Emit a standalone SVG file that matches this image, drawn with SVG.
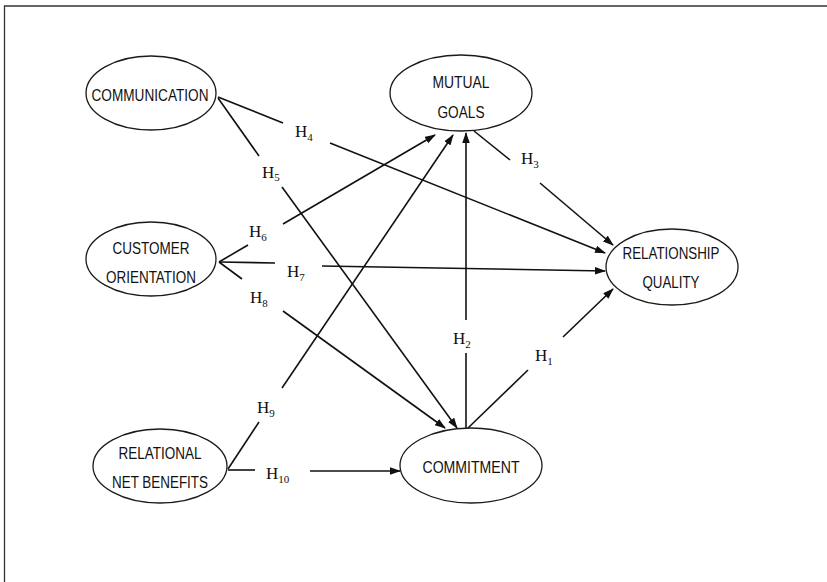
<svg xmlns="http://www.w3.org/2000/svg" width="827" height="582" viewBox="0 0 827 582">
<style>
.node ellipse{fill:#fff;stroke:#1a1a1a;stroke-width:1.3}
.node text{font-family:"Liberation Sans",Arial,sans-serif;font-size:17px;fill:#111;text-anchor:middle}
.edge line{stroke:#111;stroke-width:1.6;fill:none}
.lbl{font-family:"Liberation Serif","Times New Roman",serif;font-size:17px;fill:#111}
.lbl tspan{font-size:11px}
.frame{stroke:#333;stroke-width:1.3;fill:none}
</style>
<defs>
<marker id="arr" markerUnits="userSpaceOnUse" markerWidth="11" markerHeight="8" refX="10" refY="3.75" orient="auto">
<path d="M0,0 L11,3.75 L0,7.5 z" fill="#111"/>
</marker>
</defs>
<rect width="827" height="582" fill="#fff"/>
<path class="frame" d="M4.5,582 L4.5,6 L827,6"/>

<g id="connectors" class="edge">
<!-- H4 -->
<line x1="218" y1="97" x2="283" y2="123"/>
<line x1="330" y1="143" x2="605" y2="253" marker-end="url(#arr)"/>
<!-- H5 -->
<line x1="218" y1="98" x2="259" y2="156"/>
<line x1="282" y1="187" x2="457" y2="428" marker-end="url(#arr)"/>
<!-- H6 -->
<line x1="219" y1="262" x2="248" y2="245"/>
<line x1="283" y1="224" x2="435" y2="135" marker-end="url(#arr)"/>
<!-- H7 -->
<line x1="219" y1="262" x2="275" y2="263"/>
<line x1="322" y1="266" x2="605" y2="271" marker-end="url(#arr)"/>
<!-- H8 -->
<line x1="219" y1="262" x2="242" y2="279"/>
<line x1="283" y1="311" x2="445" y2="428" marker-end="url(#arr)"/>
<!-- H9 -->
<line x1="228" y1="469" x2="259" y2="422"/>
<line x1="282" y1="388" x2="453" y2="135" marker-end="url(#arr)"/>
<!-- H10 -->
<line x1="228" y1="470" x2="255" y2="470"/>
<line x1="310" y1="471" x2="400" y2="471" marker-end="url(#arr)"/>
<!-- H2 -->
<line x1="466" y1="428" x2="466" y2="353"/>
<line x1="466" y1="320" x2="466" y2="133" marker-end="url(#arr)"/>
<!-- H1 -->
<line x1="468" y1="428" x2="528" y2="370"/>
<line x1="563" y1="337" x2="613" y2="289" marker-end="url(#arr)"/>
<!-- H3 -->
<line x1="474" y1="131" x2="510" y2="160"/>
<line x1="540" y1="183" x2="613" y2="245" marker-end="url(#arr)"/>
</g>

<g id="labels">
<text class="lbl" x="295" y="137">H<tspan dy="4">4</tspan></text>
<text class="lbl" x="262" y="178">H<tspan dy="3">5</tspan></text>
<text class="lbl" x="249" y="237">H<tspan dy="4">6</tspan></text>
<text class="lbl" x="287" y="277">H<tspan dy="4">7</tspan></text>
<text class="lbl" x="250" y="303">H<tspan dy="4">8</tspan></text>
<text class="lbl" x="257" y="413">H<tspan dy="4">9</tspan></text>
<text class="lbl" x="266" y="479">H<tspan dy="4">10</tspan></text>
<text class="lbl" x="453" y="344">H<tspan dy="4">2</tspan></text>
<text class="lbl" x="535" y="361">H<tspan dy="4">1</tspan></text>
<text class="lbl" x="521" y="164">H<tspan dy="4">3</tspan></text>
</g>

<g id="communication" class="node">
<ellipse cx="151" cy="93" rx="65" ry="37"/>
<text x="150" y="101" textLength="117" lengthAdjust="spacingAndGlyphs">COMMUNICATION</text>
</g>
<g id="mutual-goals" class="node">
<ellipse cx="461" cy="93" rx="71" ry="38"/>
<text x="461" y="88" textLength="57" lengthAdjust="spacingAndGlyphs">MUTUAL</text>
<text x="461" y="118" textLength="47" lengthAdjust="spacingAndGlyphs">GOALS</text>
</g>
<g id="customer-orientation" class="node">
<ellipse cx="151" cy="259" rx="65" ry="37"/>
<text x="151" y="254" textLength="77" lengthAdjust="spacingAndGlyphs">CUSTOMER</text>
<text x="151" y="283" textLength="90" lengthAdjust="spacingAndGlyphs">ORIENTATION</text>
</g>
<g id="relationship-quality" class="node">
<ellipse cx="672" cy="267" rx="66" ry="38"/>
<text x="671" y="259" textLength="97" lengthAdjust="spacingAndGlyphs">RELATIONSHIP</text>
<text x="671" y="288" textLength="57" lengthAdjust="spacingAndGlyphs">QUALITY</text>
</g>
<g id="relational-net-benefits" class="node">
<ellipse cx="160" cy="466" rx="67" ry="37"/>
<text x="160" y="459" textLength="83" lengthAdjust="spacingAndGlyphs">RELATIONAL</text>
<text x="160" y="488" textLength="96" lengthAdjust="spacingAndGlyphs">NET BENEFITS</text>
</g>
<g id="commitment" class="node">
<ellipse cx="471" cy="465.5" rx="71" ry="37.5"/>
<text x="471" y="473" textLength="97" lengthAdjust="spacingAndGlyphs">COMMITMENT</text>
</g>
</svg>
